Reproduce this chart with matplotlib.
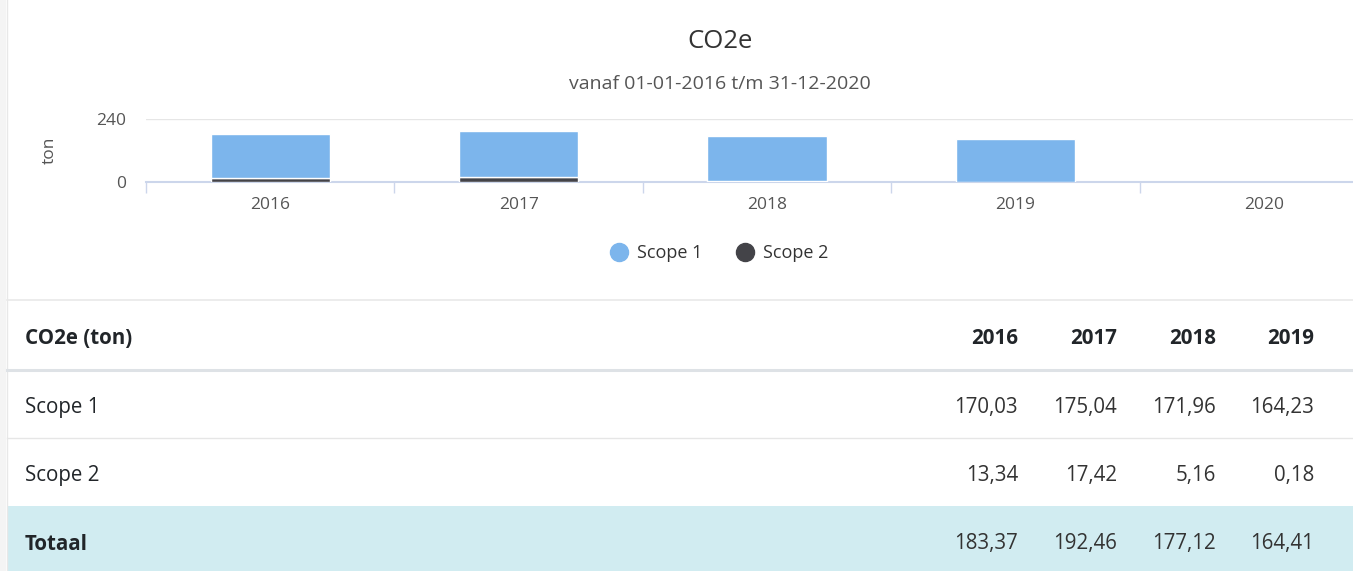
import numpy as np
import matplotlib.pyplot as plt
from matplotlib.patches import Rectangle
from matplotlib.lines import Line2D

plt.rcParams['font.family'] = ['Open Sans', 'DejaVu Sans']

# data
chart_years = ['2016', '2017', '2018', '2019', '2020']
table_years = ['2016', '2017', '2018', '2019']
scope1 = [170.03, 175.04, 171.96, 164.23]
scope2 = [13.34, 17.42, 5.16, 0.18]
totaal = [183.37, 192.46, 177.12, 164.41]
series_names = ['Scope 1', 'Scope 2']
y_ticks = [0, 240]

W, H = 1353, 571
c_scope1 = '#7cb5ec'
c_scope2 = '#434348'

fig = plt.figure(figsize=(W / 100, H / 100), dpi=100)

# background / table layer in pixel coordinates
bg = fig.add_axes([0, 0, 1, 1])
bg.set_xlim(0, W)
bg.set_ylim(H, 0)
bg.axis('off')
bg.add_patch(Rectangle((0, 0), 6, H, color='#f4f4f4', lw=0))
bg.add_line(Line2D([6.5, 6.5], [0, H], color='#e8e8e8', lw=1))

# chart axes (extends past the right edge like the screenshot)
ax = fig.add_axes([146 / W, 1 - 182 / H, (1388 - 146) / W, 63 / H])
x = np.arange(len(scope1))
ax.bar(x, scope2, width=0.48, color=c_scope2, edgecolor='white', lw=1, zorder=3)
ax.bar(x, scope1, width=0.48, bottom=scope2, color=c_scope1, edgecolor='white', lw=1, zorder=3)
ax.set_xlim(-0.5, len(chart_years) - 0.5)
ax.set_ylim(0, 240)
ax.set_yticks(y_ticks)
ax.set_yticklabels([str(v) for v in y_ticks])
ax.set_xticks(np.arange(len(chart_years)))
ax.set_xticklabels(chart_years)
ax.set_xticks(np.arange(len(chart_years) + 1) - 0.5, minor=True)
ax.tick_params(axis='x', which='major', length=0, pad=11, labelsize=12.5, labelcolor='#555555')
ax.tick_params(axis='x', which='minor', length=8, width=1, color='#ccd6eb')
ax.tick_params(axis='y', length=0, pad=14, labelsize=12.5, labelcolor='#555555')
ax.grid(axis='y', color='#e6e6e6', lw=1, zorder=0)
for s in ['top', 'right', 'left']:
    ax.spines[s].set_visible(False)
ax.spines['bottom'].set_color('#ccd6eb')
ax.spines['bottom'].set_linewidth(1.5)
ax.set_ylabel('ton', fontsize=12.5, color='#555555', labelpad=28)

fig.text(720 / W, 1 - 41 / H, 'CO2e', ha='center', va='center', fontsize=18.5, color='#333333')
fig.text(720 / W, 1 - 84 / H, 'vanaf 01-01-2016 t/m 31-12-2020', ha='center', va='center',
         fontsize=14, color='#555555')

handles = [Line2D([], [], marker='o', ls='', markersize=13, color=c) for c in [c_scope1, c_scope2]]
fig.legend(handles, series_names, loc='center', bbox_to_anchor=(719 / W, 1 - 253 / H), ncol=2,
           frameon=False, fontsize=13, handletextpad=0.5, columnspacing=1.85,
           labelcolor='#333333', handlelength=1.0)

# table
col_right = [1018, 1117, 1216, 1314]
bg.add_line(Line2D([7, W], [300, 300], color='#e9e9e9', lw=1.2))
bg.add_line(Line2D([7, W], [370, 370], color='#dee2e6', lw=2.2))
bg.add_line(Line2D([7, W], [438, 438], color='#e6e6e6', lw=1))
bg.add_patch(Rectangle((7, 506), W - 7, H - 506, color='#d1ecf1', lw=0))

fs = 14.8
bg.text(25, 339, 'CO2e (ton)', ha='left', va='center', fontsize=fs, fontweight='bold', color='#212529')
for xr, yr in zip(col_right, table_years):
    bg.text(xr, 339, yr, ha='right', va='center', fontsize=fs, fontweight='bold', color='#212529')

rows = [('Scope 1', scope1, 'normal', 408), ('Scope 2', scope2, 'normal', 476),
        ('Totaal', totaal, 'bold', 544)]
for label, vals, weight, yc in rows:
    bg.text(25, yc, label, ha='left', va='center', fontsize=fs, fontweight=weight, color='#212529')
    for xr, v in zip(col_right, vals):
        bg.text(xr, yc, f'{v:.2f}'.replace('.', ','), ha='right', va='center', fontsize=fs,
                color='#333333')

fig.savefig('out.png', dpi=100)
